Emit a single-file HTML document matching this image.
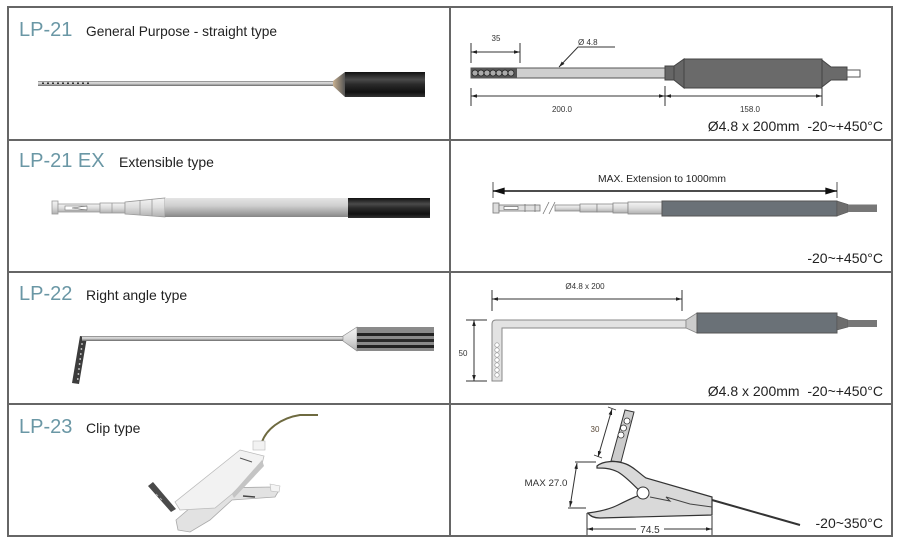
<!DOCTYPE html>
<html><head><meta charset="utf-8"><style>
html,body{margin:0;padding:0;background:#fff;}
svg{display:block;}
text{font-family:"Liberation Sans",Arial,sans-serif;}
</style></head><body>
<svg width="900" height="546" viewBox="0 0 900 546" xmlns="http://www.w3.org/2000/svg">
<defs>
<marker id="a" viewBox="0 0 10 6" refX="10" refY="3" markerWidth="6" markerHeight="4" markerUnits="userSpaceOnUse" orient="auto-start-reverse"><path d="M0,0 L10,3 L0,6 Z" fill="#222"/></marker>
<marker id="b" viewBox="0 0 10 6" refX="10" refY="3" markerWidth="12" markerHeight="7" markerUnits="userSpaceOnUse" orient="auto-start-reverse"><path d="M0,0 L10,3 L0,6 Z" fill="#111"/></marker>
<linearGradient id="g1" x1="0" y1="0" x2="0" y2="1"><stop offset="0" stop-color="#7a7a7a"/><stop offset=".35" stop-color="#e6e6e6"/><stop offset=".7" stop-color="#a8a8a8"/><stop offset="1" stop-color="#666"/></linearGradient>
<linearGradient id="g2" x1="0" y1="0" x2="0" y2="1"><stop offset="0" stop-color="#111"/><stop offset=".3" stop-color="#4a4a4a"/><stop offset=".5" stop-color="#2a2a2a"/><stop offset=".8" stop-color="#111"/><stop offset="1" stop-color="#333"/></linearGradient>
<linearGradient id="g3" x1="0" y1="0" x2="0" y2="1"><stop offset="0" stop-color="#e4e4e4"/><stop offset=".4" stop-color="#cfcfcf"/><stop offset=".8" stop-color="#a0a0a0"/><stop offset="1" stop-color="#858585"/></linearGradient>
<linearGradient id="g4" x1="0" y1="0" x2="1" y2="0"><stop offset="0" stop-color="#c8b090"/><stop offset="1" stop-color="#555"/></linearGradient>
<linearGradient id="g5" x1="0" y1="0" x2="0" y2="1"><stop offset="0" stop-color="#f4f4f4"/><stop offset=".5" stop-color="#dcdcdc"/><stop offset="1" stop-color="#b0b0b0"/></linearGradient>
</defs>

<!-- table -->
<rect x="8" y="7" width="884" height="529" fill="#fff" stroke="#666" stroke-width="2"/>
<path d="M450,7 V536 M8,140 H892 M8,272 H892 M8,404 H892" stroke="#666" stroke-width="2" fill="none"/>

<!-- ROW 1 LEFT -->
<text x="19" y="36" font-size="20" fill="#6a97a5">LP-21</text>
<text x="86" y="36" font-size="14" fill="#222" textLength="191" lengthAdjust="spacingAndGlyphs">General Purpose - straight type</text>
<rect x="38" y="81" width="296" height="5" fill="url(#g1)"/>
<g fill="#333">
<rect x="42" y="82.5" width="2" height="1.5"/><rect x="47" y="82.5" width="2" height="1.5"/><rect x="52" y="82.5" width="2" height="1.5"/><rect x="57" y="82.5" width="2" height="1.5"/><rect x="62" y="82.5" width="2" height="1.5"/><rect x="67" y="82.5" width="2" height="1.5"/><rect x="72" y="82.5" width="2" height="1.5"/><rect x="77" y="82.5" width="2" height="1.5"/><rect x="82" y="82.5" width="2" height="1.5"/><rect x="87" y="82.5" width="2" height="1.5"/>
</g>
<polygon points="333,81 345,72 345,97 333,86" fill="url(#g4)"/>
<rect x="345" y="72" width="80" height="25" fill="url(#g2)"/>

<!-- ROW 1 RIGHT -->
<path d="M471,43 V63 M520,43 V63" stroke="#333" stroke-width="1"/>
<line x1="471" y1="52" x2="520" y2="52" stroke="#333" stroke-width="1" marker-start="url(#a)" marker-end="url(#a)"/>
<text x="496" y="41" font-size="8" fill="#333" text-anchor="middle">35</text>
<path d="M615,47 H578 L559,67" stroke="#333" stroke-width="1" fill="none" marker-end="url(#a)"/>
<text x="578" y="45" font-size="8" fill="#333">Ø 4.8</text>
<rect x="471" y="68" width="194" height="10" fill="#cfcfcf" stroke="#555" stroke-width="1"/>
<rect x="471" y="68" width="46" height="10" fill="#555"/>
<g fill="#aaa" stroke="#222" stroke-width="0.8">
<circle cx="475" cy="73" r="3"/><circle cx="481" cy="73" r="3"/><circle cx="487" cy="73" r="3"/><circle cx="493" cy="73" r="3"/><circle cx="499" cy="73" r="3"/><circle cx="505" cy="73" r="3"/><circle cx="511" cy="73" r="3"/>
</g>
<rect x="665" y="66" width="9" height="14" fill="#666" stroke="#444"/>
<polygon points="674,66 684,59 684,88 674,80" fill="#666" stroke="#444"/>
<rect x="684" y="59" width="138" height="29" fill="#6a6a6a" stroke="#444"/>
<polygon points="822,60 831,67 847,67 847,80 831,80 822,87" fill="#6a6a6a" stroke="#444"/>
<rect x="847" y="70" width="13" height="7" fill="#fff" stroke="#555"/>
<path d="M471,88 V106 M665,86 V106 M822,88 V106" stroke="#333" stroke-width="1"/>
<line x1="471" y1="96" x2="665" y2="96" stroke="#333" marker-start="url(#a)" marker-end="url(#a)"/>
<line x1="665" y1="96" x2="822" y2="96" stroke="#333" marker-start="url(#a)" marker-end="url(#a)"/>
<text x="562" y="112" font-size="8" fill="#333" text-anchor="middle">200.0</text>
<text x="750" y="112" font-size="8" fill="#333" text-anchor="middle">158.0</text>
<text x="883" y="131" font-size="14" fill="#222" text-anchor="end">Ø4.8 x 200mm&#160; -20~+450°C</text>

<!-- ROW 2 LEFT -->
<text x="19" y="167" font-size="20" fill="#6a97a5">LP-21 EX</text>
<text x="119" y="167" font-size="14" fill="#222">Extensible type</text>
<rect x="52" y="201" width="6" height="13" fill="url(#g5)" stroke="#999" stroke-width="0.8"/>
<rect x="58" y="204" width="42" height="8" fill="url(#g5)" stroke="#999" stroke-width="0.8"/>
<rect x="65" y="206" width="22" height="4" fill="#fff" stroke="#777" stroke-width="0.6"/>
<path d="M87,206 L72,208 L87,210" stroke="#555" stroke-width="0.6" fill="none"/>
<rect x="100" y="203" width="25" height="10" fill="url(#g5)" stroke="#999" stroke-width="0.8"/>
<polygon points="125,202 165,198 165,217 125,214" fill="url(#g5)" stroke="#999" stroke-width="0.8"/>
<path d="M112,203 V213 M140,200 V215 M152,199 V216" stroke="#999" stroke-width="0.8"/>
<rect x="165" y="198" width="183" height="19" fill="url(#g3)"/>
<rect x="348" y="198" width="82" height="20" fill="url(#g2)"/>

<!-- ROW 2 RIGHT -->
<text x="662" y="182" font-size="10.5" fill="#222" text-anchor="middle" textLength="128" lengthAdjust="spacingAndGlyphs">MAX. Extension to 1000mm</text>
<path d="M493,182 V198 M837,182 V198" stroke="#555" stroke-width="1"/>
<line x1="493" y1="191" x2="837" y2="191" stroke="#111" stroke-width="1.5" marker-start="url(#b)" marker-end="url(#b)"/>
<rect x="493" y="203" width="6" height="10" fill="#ddd" stroke="#777" stroke-width="0.8"/>
<rect x="499" y="205" width="41" height="6" fill="#e0e0e0" stroke="#777" stroke-width="0.8"/>
<rect x="504" y="206.5" width="14" height="3" fill="#fff" stroke="#555" stroke-width="0.6"/>
<path d="M525,204 V212 M535,204 V212" stroke="#777" stroke-width="0.8"/>
<path d="M543,214 L549,202 M549,214 L555,202" stroke="#777" stroke-width="0.8"/>
<g fill="url(#g5)" stroke="#888" stroke-width="0.8">
<rect x="555" y="205" width="25" height="6"/>
<rect x="580" y="204" width="17" height="8"/>
<rect x="597" y="204" width="16" height="8"/>
<rect x="613" y="203" width="15" height="10"/>
<rect x="628" y="202" width="34" height="12"/>
</g>
<rect x="662" y="201" width="175" height="15" fill="#6a7177" stroke="#555"/>
<polygon points="837,201 848,204.5 848,212 837,216" fill="#6d6d6d" stroke="#555" stroke-width="0.6"/>
<rect x="848" y="204.5" width="29" height="7.5" fill="#777"/>
<text x="883" y="263" font-size="14" fill="#222" text-anchor="end">-20~+450°C</text>

<!-- ROW 3 LEFT -->
<text x="19" y="300" font-size="20" fill="#6a97a5">LP-22</text>
<text x="86" y="300" font-size="14" fill="#222">Right angle type</text>
<polygon points="80,336 87,337 79,384 72,383" fill="#3c3c3c"/>
<g fill="#ddd">
<circle cx="82" cy="344" r="0.9"/><circle cx="81.4" cy="349" r="0.9"/><circle cx="80.8" cy="354" r="0.9"/><circle cx="80.2" cy="359" r="0.9"/><circle cx="79.6" cy="364" r="0.9"/><circle cx="79" cy="369" r="0.9"/><circle cx="78.4" cy="374" r="0.9"/><circle cx="77.8" cy="379" r="0.9"/>
</g>
<rect x="82" y="336" width="261" height="5" fill="url(#g1)"/>
<polygon points="343,336 357,327 357,351 343,341" fill="url(#g5)" stroke="#888" stroke-width="0.6"/>
<rect x="357" y="327" width="77" height="24" fill="#8a8a8a"/>
<rect x="357" y="333" width="77" height="3" fill="#222"/>
<rect x="357" y="339" width="77" height="3" fill="#2a2a2a"/>
<rect x="357" y="345" width="77" height="3" fill="#222"/>

<!-- ROW 3 RIGHT -->
<text x="585" y="289" font-size="8" fill="#333" text-anchor="middle">Ø4.8 x 200</text>
<path d="M492,290 V311 M682,290 V311" stroke="#333" stroke-width="1"/>
<line x1="492" y1="299" x2="682" y2="299" stroke="#333" marker-start="url(#a)" marker-end="url(#a)"/>
<path d="M492,381 V324 Q492,320 496,320 H686 V328 H502 V381 Z" fill="#e2e2e2" stroke="#888" stroke-width="1"/>
<g fill="#fff" stroke="#999" stroke-width="0.7">
<circle cx="497" cy="345" r="2.2"/><circle cx="497" cy="350" r="2.2"/><circle cx="497" cy="355" r="2.2"/><circle cx="497" cy="360" r="2.2"/><circle cx="497" cy="365" r="2.2"/><circle cx="497" cy="370" r="2.2"/><circle cx="497" cy="375" r="2.2"/>
</g>
<polygon points="686,320 697,313 697,333 686,328" fill="#ccc" stroke="#888" stroke-width="0.8"/>
<rect x="697" y="313" width="140" height="20" fill="#6a7177" stroke="#555"/>
<polygon points="837,316 848,320 848,327 837,330" fill="#6d6d6d" stroke="#555" stroke-width="0.6"/>
<rect x="848" y="320" width="29" height="7" fill="#777"/>
<path d="M466,320 H487 M466,381 H487" stroke="#333" stroke-width="1"/>
<line x1="474" y1="320" x2="474" y2="381" stroke="#333" marker-start="url(#a)" marker-end="url(#a)"/>
<text x="463" y="356" font-size="8" fill="#333" text-anchor="middle">50</text>
<text x="883" y="396" font-size="14" fill="#222" text-anchor="end">Ø4.8 x 200mm&#160; -20~+450°C</text>

<!-- ROW 4 LEFT -->
<text x="19" y="433" font-size="20" fill="#6a97a5">LP-23</text>
<text x="86" y="433" font-size="14" fill="#222">Clip type</text>
<path d="M262,442 C266,430 280,418 300,415 L318,415" stroke="#6e6a40" stroke-width="2" fill="none"/>
<rect x="253" y="441" width="12" height="9" fill="#f2f2f2" stroke="#bbb" stroke-width="0.6"/>
<polygon points="215,488 272,487 278,492 275,497 232,500 210,520 190,532 178,530 176,520 190,508" fill="#e2e2e2" stroke="#aaa" stroke-width="0.8"/>
<polygon points="270,484 280,486 279,492 271,491" fill="#f4f4f4" stroke="#bbb" stroke-width="0.6"/>
<path d="M243,496 L255,497" stroke="#444" stroke-width="1.5"/>
<polygon points="240,450 264,456 262,464 232,494 215,508 180,510 175,502" fill="#f2f2f2" stroke="#bbb" stroke-width="0.8"/>
<polygon points="262,460 264,466 234,498 232,494" fill="#c4c4c4"/>
<path d="M240,458 L252,462" stroke="#555" stroke-width="1"/>
<polygon points="148,486 153,482 176,509 171,512" fill="#4a4a4a"/>
<path d="M156,494 L158,496 M160,498 L162,500" stroke="#aaa" stroke-width="1"/>

<!-- ROW 4 RIGHT -->
<line x1="612" y1="409" x2="598" y2="457" stroke="#333" marker-start="url(#a)" marker-end="url(#a)"/>
<path d="M608,407 L616,410 M594,455 L602,458" stroke="#333" stroke-width="0.8"/>
<text x="595" y="432" font-size="8" fill="#5a4a3a" text-anchor="middle">30</text>
<polygon points="625,410 634,412 621,462 611,461" fill="#ccc" stroke="#333" stroke-width="1"/>
<g fill="#fff" stroke="#333" stroke-width="0.8">
<circle cx="627" cy="421" r="3"/><circle cx="623.5" cy="428" r="3"/><circle cx="621" cy="435" r="3"/>
</g>
<line x1="712" y1="500" x2="800" y2="525" stroke="#333" stroke-width="2"/>
<path d="M597,466 C603,461 615,460 626,464 C634,467 640,474 646,478 L712,497 L712,515 L600,518 C594,518 590,516 588,513 C596,512 608,510 618,505 C628,500 636,496 643,494 C636,488 628,478 618,472 C610,468 603,468 597,468 Z" fill="#d9d9d9" stroke="#333" stroke-width="1.2"/>
<path d="M650,497 L670,501 L666,497 L690,504 L712,507" stroke="#444" stroke-width="1" fill="none"/>
<circle cx="643" cy="493" r="6" fill="#fff" stroke="#333" stroke-width="1"/>
<path d="M575,462 H596 M568,508 H586" stroke="#333" stroke-width="1"/>
<line x1="577" y1="463" x2="570" y2="507" stroke="#333" marker-start="url(#a)" marker-end="url(#a)"/>
<text x="546" y="486" font-size="9.5" fill="#333" text-anchor="middle" textLength="43" lengthAdjust="spacingAndGlyphs">MAX 27.0</text>
<path d="M587,513 V535 M712,516 V535" stroke="#333" stroke-width="1"/>
<line x1="587" y1="529" x2="712" y2="529" stroke="#333" marker-start="url(#a)" marker-end="url(#a)"/>
<rect x="636" y="522" width="28" height="12" fill="#fff"/>
<text x="650" y="533" font-size="10" fill="#333" text-anchor="middle">74.5</text>
<text x="883" y="528" font-size="14" fill="#222" text-anchor="end">-20~350°C</text>
</svg>
</body></html>
